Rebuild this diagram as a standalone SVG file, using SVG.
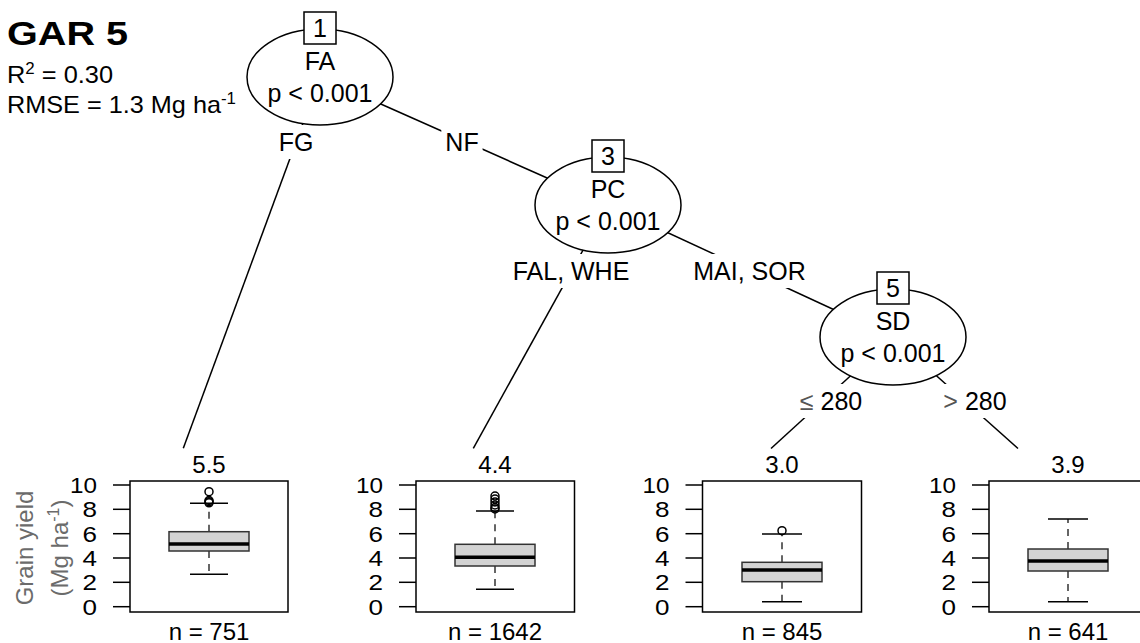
<svg xmlns="http://www.w3.org/2000/svg" width="1140" height="643" viewBox="0 0 1140 643">
<style>
text{font-family:"Liberation Sans",Arial,sans-serif;fill:#000}
.t{font-size:25px;text-anchor:middle}
.lt{font-size:24px;text-anchor:middle}
.tk{font-size:22px;text-anchor:end}
.yl{font-size:24px;text-anchor:middle;fill:#6b6b6b}
.ell{fill:#fff;stroke:#000;stroke-width:1.5}
.nb{fill:#fff;stroke:#000;stroke-width:1.5}
.edge{stroke:#000;stroke-width:1.5;fill:none}
.bg{fill:#fff;stroke:none}
.frame{fill:none;stroke:#000;stroke-width:1.5}
.tick{stroke:#000;stroke-width:1.5}
.box{fill:#d3d3d3;stroke:#333;stroke-width:1.5}
.med{stroke:#000;stroke-width:3.5}
.wh{stroke:#333;stroke-width:1.5;stroke-dasharray:7 6}
.cap{stroke:#000;stroke-width:1.5}
.out{fill:none;stroke:#000;stroke-width:1.5}
.gr{fill:#555}
</style>

<g id="title">
<text x="7" y="45" font-size="33" font-weight="bold" textLength="121" lengthAdjust="spacingAndGlyphs">GAR 5</text>
<text x="7" y="83" font-size="24" textLength="106" lengthAdjust="spacingAndGlyphs">R<tspan dy="-9" font-size="16">2</tspan><tspan dy="9"> = 0.30</tspan></text>
<text x="7" y="113" font-size="24" textLength="229" lengthAdjust="spacingAndGlyphs">RMSE = 1.3 Mg ha<tspan dy="-9" font-size="16">-1</tspan></text>
</g>

<g id="connectors">
<line class="edge" x1="320" y1="77" x2="183.3" y2="448.3"/>
<line class="edge" x1="320" y1="77" x2="608" y2="205"/>
<line class="edge" x1="608" y1="205" x2="473.3" y2="448.3"/>
<line class="edge" x1="608" y1="205" x2="893" y2="337"/>
<line class="edge" x1="893" y1="337" x2="771" y2="448.5"/>
<line class="edge" x1="893" y1="337" x2="1018" y2="448.5"/>
<g id="edge-labels">
<rect class="bg" x="274.6" y="125" width="42.7" height="34"/>
<text class="t" x="296" y="151">FG</text>
<rect class="bg" x="441.3" y="125" width="41.3" height="34"/>
<text class="t" x="462" y="151">NF</text>
<rect class="bg" x="508" y="254" width="126" height="34"/>
<text class="t" x="571" y="280">FAL, WHE</text>
<rect class="bg" x="686.7" y="254" width="125.5" height="34"/>
<text class="t" x="749.5" y="280">MAI, SOR</text>
<rect class="bg" x="795.8" y="384" width="70.4" height="34"/>
<text class="t" x="831" y="410"><tspan class="gr">≤</tspan> 280</text>
<rect class="bg" x="939.4" y="384" width="71.3" height="34"/>
<text class="t" x="975" y="410"><tspan class="gr">&gt;</tspan> 280</text>
</g>
</g>

<g id="node1">
<ellipse class="ell" cx="320" cy="77" rx="73" ry="48"/>
<rect class="nb" x="304" y="12" width="32" height="32"/>
<text class="t" x="320" y="37">1</text>
<text class="t" x="320" y="70">FA</text>
<text class="t" x="320" y="102">p &lt; 0.001</text>
</g>

<g id="node3">
<ellipse class="ell" cx="608" cy="205" rx="73" ry="48"/>
<rect class="nb" x="592" y="140" width="32" height="32"/>
<text class="t" x="608" y="165">3</text>
<text class="t" x="608" y="198">PC</text>
<text class="t" x="608" y="230">p &lt; 0.001</text>
</g>

<g id="node5">
<ellipse class="ell" cx="893" cy="337" rx="73" ry="48"/>
<rect class="nb" x="877" y="272" width="32" height="32"/>
<text class="t" x="893" y="297">5</text>
<text class="t" x="893" y="330">SD</text>
<text class="t" x="893" y="362">p &lt; 0.001</text>
</g>

<g id="ylabel">
<text class="yl" transform="translate(32.5,548) rotate(-90)">Grain yield</text>
<text class="yl" transform="translate(67.5,548) rotate(-90)">(Mg ha<tspan dy="-9" font-size="16">-1</tspan><tspan dy="9">)</tspan></text>
</g>

<g id="leaf2">
<text class="lt" x="209" y="473">5.5</text>
<rect class="frame" x="130" y="481" width="158" height="131"/>
<g class="tick">
<line x1="113" y1="485" x2="130" y2="485"/><line x1="113" y1="509.3" x2="130" y2="509.3"/><line x1="113" y1="533.7" x2="130" y2="533.7"/><line x1="113" y1="558" x2="130" y2="558"/><line x1="113" y1="582.3" x2="130" y2="582.3"/><line x1="113" y1="606.7" x2="130" y2="606.7"/>
</g>
<text class="tk" x="97" y="492.8" textLength="27" lengthAdjust="spacingAndGlyphs">10</text><text class="tk" x="97" y="517.1" textLength="14.5" lengthAdjust="spacingAndGlyphs">8</text><text class="tk" x="97" y="541.5" textLength="14.5" lengthAdjust="spacingAndGlyphs">6</text><text class="tk" x="97" y="565.8" textLength="14.5" lengthAdjust="spacingAndGlyphs">4</text><text class="tk" x="97" y="590.1" textLength="14.5" lengthAdjust="spacingAndGlyphs">2</text><text class="tk" x="97" y="614.5" textLength="14.5" lengthAdjust="spacingAndGlyphs">0</text>
<line class="wh" x1="209" y1="531.7" x2="209" y2="503.3"/>
<line class="wh" x1="209" y1="551" x2="209" y2="574.3"/>
<line class="cap" x1="190" y1="503.3" x2="228" y2="503.3"/>
<line class="cap" x1="190" y1="574.3" x2="228" y2="574.3"/>
<rect class="box" x="169" y="531.7" width="80" height="19.3"/>
<line class="med" x1="169" y1="544" x2="249" y2="544"/>
<circle class="out" cx="209" cy="491.7" r="4"/>
<circle class="out" cx="209" cy="500.5" r="4"/>
<circle class="out" cx="209" cy="501.7" r="4"/>
<circle class="out" cx="209" cy="502.8" r="4"/>
<text class="lt" x="209" y="640">n = 751</text>
</g>

<g id="leaf4">
<text class="lt" x="495" y="473">4.4</text>
<rect class="frame" x="416" y="481" width="158.5" height="131"/>
<g class="tick">
<line x1="399" y1="485" x2="416" y2="485"/><line x1="399" y1="509.3" x2="416" y2="509.3"/><line x1="399" y1="533.7" x2="416" y2="533.7"/><line x1="399" y1="558" x2="416" y2="558"/><line x1="399" y1="582.3" x2="416" y2="582.3"/><line x1="399" y1="606.7" x2="416" y2="606.7"/>
</g>
<text class="tk" x="383" y="492.8" textLength="27" lengthAdjust="spacingAndGlyphs">10</text><text class="tk" x="383" y="517.1" textLength="14.5" lengthAdjust="spacingAndGlyphs">8</text><text class="tk" x="383" y="541.5" textLength="14.5" lengthAdjust="spacingAndGlyphs">6</text><text class="tk" x="383" y="565.8" textLength="14.5" lengthAdjust="spacingAndGlyphs">4</text><text class="tk" x="383" y="590.1" textLength="14.5" lengthAdjust="spacingAndGlyphs">2</text><text class="tk" x="383" y="614.5" textLength="14.5" lengthAdjust="spacingAndGlyphs">0</text>
<line class="wh" x1="495" y1="544.3" x2="495" y2="511"/>
<line class="wh" x1="495" y1="566" x2="495" y2="589.3"/>
<line class="cap" x1="476" y1="511" x2="514" y2="511"/>
<line class="cap" x1="476" y1="589.3" x2="514" y2="589.3"/>
<rect class="box" x="455" y="544.3" width="80" height="21.7"/>
<line class="med" x1="455" y1="557.3" x2="535" y2="557.3"/>
<circle class="out" cx="495" cy="496" r="4"/>
<circle class="out" cx="495" cy="499" r="4"/>
<circle class="out" cx="495" cy="502" r="4"/>
<circle class="out" cx="495" cy="505" r="4"/>
<circle class="out" cx="495" cy="507.5" r="4"/>
<circle class="out" cx="495" cy="509" r="4"/>
<text class="lt" x="495" y="640">n = 1642</text>
</g>

<g id="leaf6">
<text class="lt" x="782" y="473">3.0</text>
<rect class="frame" x="702.5" y="481" width="159" height="131"/>
<g class="tick">
<line x1="685.5" y1="485" x2="702.5" y2="485"/><line x1="685.5" y1="509.3" x2="702.5" y2="509.3"/><line x1="685.5" y1="533.7" x2="702.5" y2="533.7"/><line x1="685.5" y1="558" x2="702.5" y2="558"/><line x1="685.5" y1="582.3" x2="702.5" y2="582.3"/><line x1="685.5" y1="606.7" x2="702.5" y2="606.7"/>
</g>
<text class="tk" x="669.5" y="492.8" textLength="27" lengthAdjust="spacingAndGlyphs">10</text><text class="tk" x="669.5" y="517.1" textLength="14.5" lengthAdjust="spacingAndGlyphs">8</text><text class="tk" x="669.5" y="541.5" textLength="14.5" lengthAdjust="spacingAndGlyphs">6</text><text class="tk" x="669.5" y="565.8" textLength="14.5" lengthAdjust="spacingAndGlyphs">4</text><text class="tk" x="669.5" y="590.1" textLength="14.5" lengthAdjust="spacingAndGlyphs">2</text><text class="tk" x="669.5" y="614.5" textLength="14.5" lengthAdjust="spacingAndGlyphs">0</text>
<line class="wh" x1="782" y1="562.3" x2="782" y2="534"/>
<line class="wh" x1="782" y1="581.7" x2="782" y2="601.7"/>
<line class="cap" x1="762" y1="534" x2="802" y2="534"/>
<line class="cap" x1="762" y1="601.7" x2="802" y2="601.7"/>
<rect class="box" x="742" y="562.3" width="80" height="19.4"/>
<line class="med" x1="742" y1="570" x2="822" y2="570"/>
<circle class="out" cx="782" cy="530.7" r="4"/>
<text class="lt" x="782" y="640">n = 845</text>
</g>

<g id="leaf7">
<text class="lt" x="1068" y="473">3.9</text>
<rect class="frame" x="989" y="481" width="160" height="131"/>
<g class="tick">
<line x1="972" y1="485" x2="989" y2="485"/><line x1="972" y1="509.3" x2="989" y2="509.3"/><line x1="972" y1="533.7" x2="989" y2="533.7"/><line x1="972" y1="558" x2="989" y2="558"/><line x1="972" y1="582.3" x2="989" y2="582.3"/><line x1="972" y1="606.7" x2="989" y2="606.7"/>
</g>
<text class="tk" x="956" y="492.8" textLength="27" lengthAdjust="spacingAndGlyphs">10</text><text class="tk" x="956" y="517.1" textLength="14.5" lengthAdjust="spacingAndGlyphs">8</text><text class="tk" x="956" y="541.5" textLength="14.5" lengthAdjust="spacingAndGlyphs">6</text><text class="tk" x="956" y="565.8" textLength="14.5" lengthAdjust="spacingAndGlyphs">4</text><text class="tk" x="956" y="590.1" textLength="14.5" lengthAdjust="spacingAndGlyphs">2</text><text class="tk" x="956" y="614.5" textLength="14.5" lengthAdjust="spacingAndGlyphs">0</text>
<line class="wh" x1="1068" y1="549" x2="1068" y2="519"/>
<line class="wh" x1="1068" y1="571" x2="1068" y2="601.7"/>
<line class="cap" x1="1048" y1="519" x2="1088" y2="519"/>
<line class="cap" x1="1048" y1="601.7" x2="1088" y2="601.7"/>
<rect class="box" x="1028" y="549" width="80" height="22"/>
<line class="med" x1="1028" y1="561" x2="1108" y2="561"/>
<text class="lt" x="1068" y="640">n = 641</text>
</g>
</svg>
